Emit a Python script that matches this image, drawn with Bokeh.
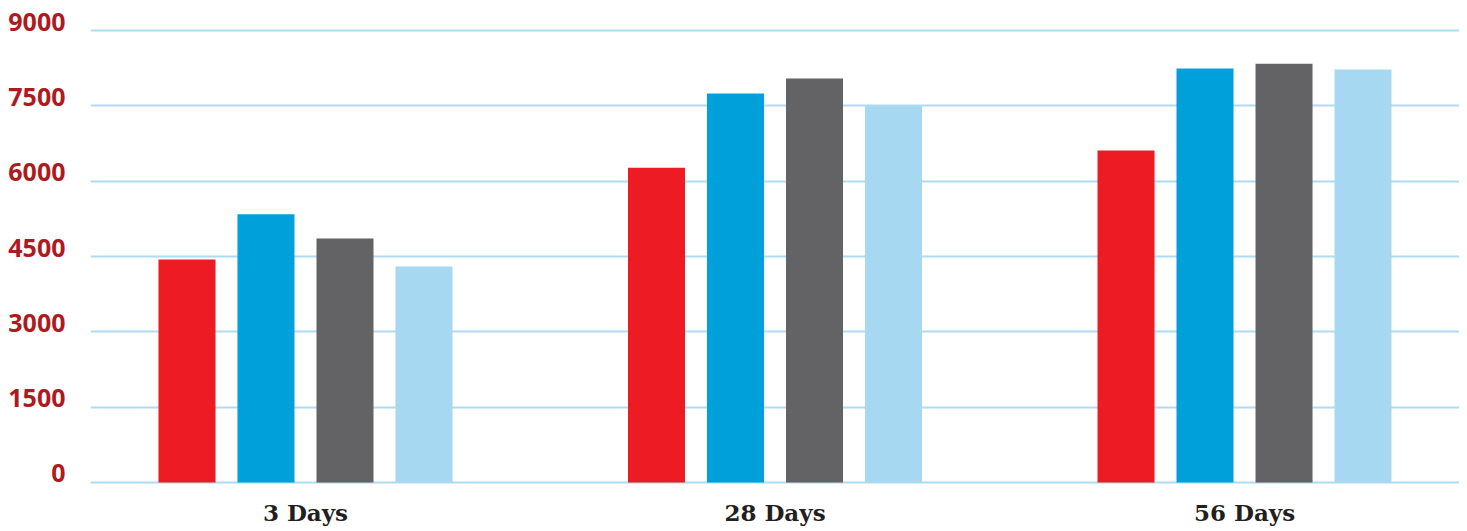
from bokeh.plotting import figure
from bokeh.models import (FactorRange, ColumnDataSource, Range1d, FixedTicker,
                          LinearAxis, Grid)
from bokeh.transform import dodge
from bokeh.embed import file_html
from bokeh.resources import INLINE

# ---- data ----
groups = ["3 Days", "28 Days", "56 Days"]
series_a = [4440, 6270, 6610]
series_b = [5340, 7745, 8245]
series_c = [4860, 8045, 8340]
series_d = [4300, 7500, 8225]
y_ticks = [0, 1500, 3000, 4500, 6000, 7500, 9000]

series_keys = ["a", "b", "c", "d"]
colors = ["#ed1c24", "#00a1da", "#636365", "#a6d9f1"]
offsets = [-0.2756, -0.0919, 0.0919, 0.2756]

src = ColumnDataSource(dict(group=groups, a=series_a, b=series_b, c=series_c, d=series_d))

Y_START, Y_END = -40, 9200
FRAME_H = 464
label_lift = 9 * (Y_END - Y_START) / FRAME_H  # labels sit just above their gridlines

p = figure(
    x_range=FactorRange(*groups, factor_padding=0.092, range_padding=0),
    y_range=Range1d(Y_START, Y_END),
    frame_width=1369, frame_height=FRAME_H,
    output_backend="svg", toolbar_location=None,
    y_axis_location=None,
    min_border_left=90, min_border_right=0, min_border_top=20, min_border_bottom=30,
)
p.extra_y_ranges = {"labels": Range1d(Y_START - label_lift, Y_END - label_lift)}

p.outline_line_color = None
p.xgrid.grid_line_color = None
p.ygrid.grid_line_color = None

ygrid = Grid(dimension=1, ticker=FixedTicker(ticks=y_ticks),
             grid_line_color="#aedcf1", grid_line_width=2)
p.add_layout(ygrid)

for key, col, off in zip(series_keys, colors, offsets):
    p.vbar(x=dodge("group", off, range=p.x_range), top=key, bottom=0, width=0.1326,
           source=src, fill_color=col, line_color=None)

yaxis = LinearAxis(y_range_name="labels", ticker=FixedTicker(ticks=y_ticks))
yaxis.axis_line_color = None
yaxis.major_tick_line_color = None
yaxis.minor_tick_line_color = None
yaxis.major_label_standoff = 19
yaxis.major_label_text_font = "Open Sans"
yaxis.major_label_text_font_style = "bold"
yaxis.major_label_text_font_size = "25px"
yaxis.major_label_text_color = "#ae1a20"
p.add_layout(yaxis, "left")

p.xaxis.axis_line_color = None
p.xaxis.major_tick_line_color = None
p.xaxis.minor_tick_line_color = None
p.xaxis.major_label_standoff = 8
p.xaxis.major_label_text_font = "DejaVu Serif"
p.xaxis.major_label_text_font_style = "bold"
p.xaxis.major_label_text_font_size = "23px"
p.xaxis.major_label_text_color = "#231f20"

open("out.html", "w").write(file_html(p, INLINE))
